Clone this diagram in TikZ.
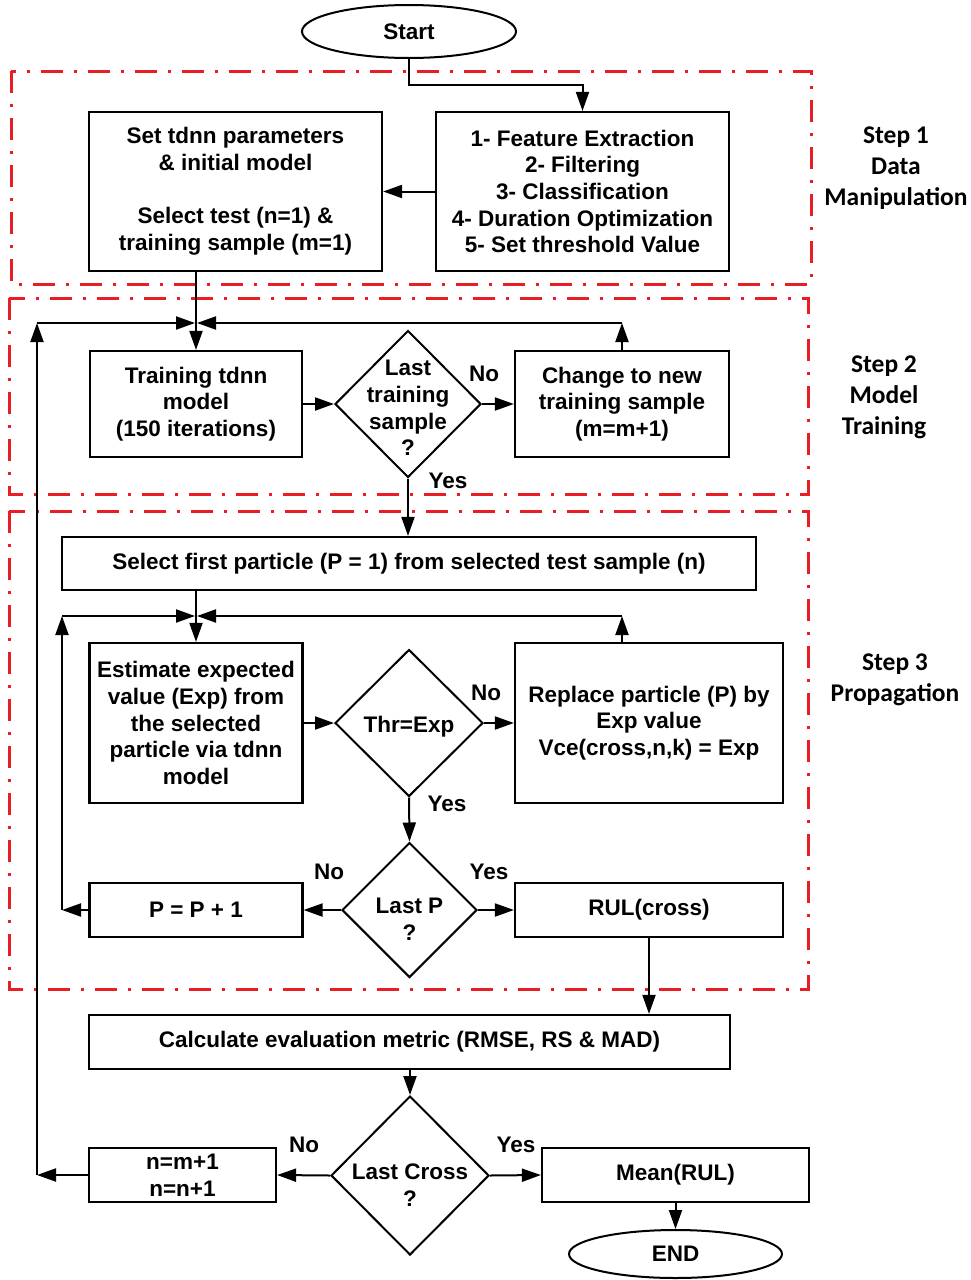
\documentclass[tikz,border=0pt]{standalone}
\usepackage{fontspec}
\setmainfont{Liberation Sans}
\newfontfamily\stepfont{Carlito}
\usetikzlibrary{arrows.meta,shapes.geometric}
\definecolor{redline}{RGB}{232,30,36}
\begin{document}
\begin{tikzpicture}[x=1pt,y=-1pt,
  box/.style={draw, line width=2.2pt, rectangle, inner sep=0pt, align=center,
    font=\bfseries\fontsize{22.5}{26.7}\selectfont},
  oval/.style={draw, line width=2pt, ellipse, inner sep=0pt,
    font=\bfseries\fontsize{22.5}{26.7}\selectfont},
  dia/.style={draw, line width=2pt, diamond, inner sep=0pt},
  txt/.style={inner sep=0pt, align=center, font=\bfseries\fontsize{22.5}{26.7}\selectfont},
  steplab/.style={inner sep=0pt, align=center, font=\stepfont\bfseries\fontsize{25.5}{31.2}\selectfont},
  conn/.style={line width=2pt, -{Triangle[length=19pt,width=13pt]}},
  redbox/.style={draw=redline, line width=3pt, dash pattern=on 22pt off 11pt on 3pt off 11pt}
]
\useasboundingbox (0,0) rectangle (971,1280);

% red step frames
\draw[redbox] (11,71) rectangle (811,284);
\draw[redbox] (9,298) rectangle (808,494);
\draw[redbox] (9,511) rectangle (808,989);

% step labels
\node[steplab] (s1lab) at (896,168) {Step 1\\Data\\Manipulation};
\node[steplab] (s2lab) at (884,397) {Step 2\\Model\\Training};
\node[steplab] (s3lab) at (895,680) {Step 3\\Propagation};

% nodes
\node[oval, minimum width=214pt, minimum height=53pt] (Start) at (409,31.5) {Start};
\node[box, minimum width=293pt, minimum height=159pt] (A) at (235.5,191.5)
  {Set tdnn parameters\\\& initial model\\[26.7pt]Select test (n=1) \&\\training sample (m=1)};
\node[box, minimum width=293pt, minimum height=159pt] (B) at (582.5,191.5)
  {1- Feature Extraction\\2- Filtering\\3- Classification\\4- Duration Optimization\\5- Set threshold Value};

\node[box, minimum width=212pt, minimum height=106pt] (Train) at (196,404)
  {Training tdnn\\model\\(150 iterations)};
\node[dia, minimum width=146pt, minimum height=147pt] (D1) at (408,404) {};
\node[txt] (D1t) at (408,408) {Last\\training\\sample\\?};
\node[box, minimum width=214pt, minimum height=106pt] (Change) at (622,404)
  {Change to new\\training sample\\(m=m+1)};

\node[box, minimum width=694pt, minimum height=53pt] (Select) at (409,563.5)
  {Select first particle (P = 1) from selected test sample (n)};

\node[box, minimum width=213pt, minimum height=160pt] (Est) at (196,723)
  {Estimate expected\\value (Exp) from\\the selected\\particle via tdnn\\model};
\node[dia, minimum width=148pt, minimum height=147pt] (D2) at (409,723) {};
\node[txt] (D2t) at (409,727) {Thr=Exp};
\node[box, minimum width=268pt, minimum height=160pt] (Rep) at (649,723)
  {Replace particle (P) by\\Exp value\\Vce(cross,n,k) = Exp};

\node[dia, minimum width=135pt, minimum height=135pt] (D3) at (409.5,910) {};
\node[txt] (D3t) at (409.5,919) {Last P\\?};
\node[box, minimum width=213pt, minimum height=54pt] (P) at (196,910) {P = P + 1};
\node[box, minimum width=268pt, minimum height=54pt] (RUL) at (649,910) {RUL(cross)};

\node[box, minimum width=641pt, minimum height=54pt] (Calc) at (409.5,1042)
  {Calculate evaluation metric (RMSE, RS \& MAD)};

\node[dia, minimum width=158pt, minimum height=159pt] (D4) at (410,1175.5) {};
\node[txt] (D4t) at (410,1185) {Last Cross\\?};
\node[box, minimum width=187pt, minimum height=54pt] (N) at (182.5,1175) {n=m+1\\n=n+1};
\node[box, minimum width=267pt, minimum height=54pt] (Mean) at (675.5,1175) {Mean(RUL)};
\node[oval, minimum width=213pt, minimum height=48pt] (End) at (675.5,1254) {END};

% yes / no labels
\node[txt] (no1) at (484,374) {No};
\node[txt] (yes1) at (448,481) {Yes};
\node[txt] (no2) at (486,693) {No};
\node[txt] (yes2) at (447,804) {Yes};
\node[txt] (no3) at (329,872) {No};
\node[txt] (yes3) at (489,872) {Yes};
\node[txt] (no4) at (304,1145) {No};
\node[txt] (yes4) at (516,1145) {Yes};

% helper coordinates
\coordinate (s1) at (409,85);
\coordinate (j1L) at (37,323);
\coordinate (j1R) at (622,323);
\coordinate (j1a) at (195,323);
\coordinate (j1b) at (197,323);
\coordinate (c1) at (37,1175);
\coordinate (j2L) at (62,616);
\coordinate (j2R) at (622,616);
\coordinate (j2a) at (195,616);
\coordinate (j2b) at (197,616);
\coordinate (c2) at (62,910);

% connectors
\draw[conn] (Start.south) -- (s1) -| (B.north);
\draw[conn] (B.west) -- (A.east);
\draw[conn] (Train.north |- A.south) -- (Train.north);
\draw[conn] (Change.north) -- (j1R);
\draw[conn] (j1R) -- (j1b);
\draw[conn] (Train.east) -- (D1.west);
\draw[conn] (D1.east) -- (Change.west);
\draw[conn] (D1.south) -- (D1.south |- Select.north);
\draw[conn] (Est.north |- Select.south) -- (Est.north);
\draw[conn] (j2R |- Rep.north) -- (j2R);
\draw[conn] (j2R) -- (j2b);
\draw[conn] (Est.east) -- (D2.west);
\draw[conn] (D2.east) -- (Rep.west);
\draw[conn] (D2.south) -- (D3.north);
\draw[conn] (D3.west) -- (P.east);
\draw[conn] (D3.east) -- (RUL.west);
\draw[conn] (P.west) -- (c2);
\draw[conn] (c2) -- (j2L);
\draw[conn] (j2L) -- (j2a);
\draw[conn] (RUL.south) -- (RUL.south |- Calc.north);
\draw[conn] (D4.north |- Calc.south) -- (D4.north);
\draw[conn] (D4.west) -- (N.east);
\draw[conn] (D4.east) -- (Mean.west);
\draw[conn] (N.west) -- (c1);
\draw[conn] (c1) -- (j1L);
\draw[conn] (j1L) -- (j1a);
\draw[conn] (Mean.south -| End.north) -- (End.north);
\end{tikzpicture}
\end{document}
